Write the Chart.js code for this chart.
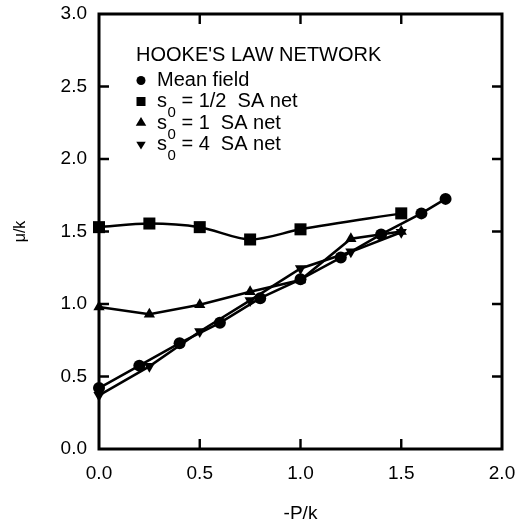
<!DOCTYPE html>
<html>
<head>
<meta charset="utf-8">
<script src="https://cdn.jsdelivr.net/npm/chart.js@4/dist/chart.umd.min.js"></script>
<style>
  html, body { margin: 0; padding: 0; background: #fff; }
  canvas { display: block; }
</style>
</head>
<body>
<canvas id="c" width="523" height="527"></canvas>
<script>
// ---- data ----
const legendTitle = "HOOKE'S LAW NETWORK";
const xAxisTitle = "-P/k";
const yAxisTitle = "μ/k";
const xTickValues = [0, 0.5, 1.0, 1.5, 2.0];
const yTickValues = [0, 0.5, 1.0, 1.5, 2.0, 2.5, 3.0];

const meanFieldX = [0, 0.2, 0.4, 0.6, 0.8, 1.0, 1.2, 1.4, 1.6, 1.72];
const meanFieldY = [0.42, 0.575, 0.73, 0.87, 1.04, 1.17, 1.32, 1.48, 1.625, 1.725];

const sHalfX = [0, 0.25, 0.5, 0.75, 1.0, 1.5];
const sHalfY = [1.53, 1.555, 1.53, 1.445, 1.515, 1.625];

const sOneX = [0, 0.25, 0.5, 0.75, 1.0, 1.25, 1.5];
const sOneY = [0.98, 0.93, 0.995, 1.085, 1.165, 1.45, 1.5];

const sFourX = [0, 0.25, 0.5, 0.75, 1.0, 1.25, 1.5];
const sFourY = [0.37, 0.57, 0.81, 1.025, 1.245, 1.36, 1.495];

const seriesLabels = ["Mean field", "s₀ = 1/2  SA net", "s₀ = 1  SA net", "s₀ = 4  SA net"];

// ---- helpers ----
const pts = (xs, ys) => xs.map((x, i) => ({ x: x, y: ys[i] }));
const FONT = "'Liberation Sans', Arial, sans-serif";

function drawMarker(ctx, style, x, y, s) {
  ctx.save();
  ctx.fillStyle = '#000';
  ctx.beginPath();
  if (style === 'circle') {
    ctx.arc(x, y, s, 0, Math.PI * 2);
  } else if (style === 'rect') {
    ctx.rect(x - s, y - s, 2 * s, 2 * s);
  } else if (style === 'triangle') {
    ctx.moveTo(x, y - s);
    ctx.lineTo(x + s * 1.05, y + s * 0.75);
    ctx.lineTo(x - s * 1.05, y + s * 0.75);
    ctx.closePath();
  } else if (style === 'triangleDown') {
    ctx.moveTo(x, y + s);
    ctx.lineTo(x + s * 1.05, y - s * 0.75);
    ctx.lineTo(x - s * 1.05, y - s * 0.75);
    ctx.closePath();
  }
  ctx.fill();
  ctx.restore();
}

// frame with inward tick marks, built from the chart scales
const framePlugin = {
  id: 'frame',
  afterDatasetsDraw(chart) {
    const { ctx, chartArea: a, scales } = chart;
    ctx.save();
    ctx.strokeStyle = '#000';
    ctx.lineWidth = 3;
    ctx.strokeRect(a.left, a.top, a.right - a.left, a.bottom - a.top);
    ctx.lineWidth = 2.4;
    const tl = 10;
    ctx.beginPath();
    yTickValues.forEach(v => {
      if (v === 0 || v === 3.0) return;
      const py = scales.y.getPixelForValue(v);
      ctx.moveTo(a.left, py); ctx.lineTo(a.left + tl, py);
      ctx.moveTo(a.right, py); ctx.lineTo(a.right - tl, py);
    });
    xTickValues.forEach(v => {
      if (v === 0 || v === 2.0) return;
      const px = scales.x.getPixelForValue(v);
      ctx.moveTo(px, a.bottom); ctx.lineTo(px, a.bottom - tl);
      ctx.moveTo(px, a.top); ctx.lineTo(px, a.top + tl);
    });
    ctx.stroke();
    ctx.restore();
  }
};

// in-plot legend with subscripts
const legendPlugin = {
  id: 'insideLegend',
  afterDraw(chart) {
    const { ctx, chartArea: a } = chart;
    const x0 = a.left + 37;
    ctx.save();
    ctx.fillStyle = '#000';
    ctx.textBaseline = 'alphabetic';
    ctx.textAlign = 'left';
    ctx.font = '20px ' + FONT;
    ctx.fillText(legendTitle, x0, a.top + 47);
    const baselines = [72, 93, 115, 136];
    const markerSizes = [4.5, 4.5, 5, 4.5];
    const markerDy = [-5.5, -5.5, -7, -5];
    chart.data.datasets.forEach((ds, i) => {
      const by = a.top + baselines[i];
      drawMarker(ctx, ds.pointStyle === 'triangle' && ds.rotation === 180 ? 'triangleDown' : ds.pointStyle,
        x0 + 5, by + markerDy[i], markerSizes[i]);
      let tx = x0 + 21;
      const label = ds.label;
      const k = label.indexOf('₀');
      ctx.font = '20px ' + FONT;
      if (k < 0) {
        ctx.fillText(label, tx, by);
      } else {
        const pre = label.slice(0, k), post = label.slice(k + 1);
        ctx.fillText(pre, tx, by);
        tx += ctx.measureText(pre).width + 0.5;
        ctx.font = '15px ' + FONT;
        ctx.fillText('0', tx, by + 10);
        tx += ctx.measureText('0').width;
        ctx.font = '20px ' + FONT;
        ctx.fillText(post, tx, by);
      }
    });
    ctx.restore();
  }
};

const baseDs = {
  borderColor: '#000',
  backgroundColor: '#000',
  pointBackgroundColor: '#000',
  pointBorderColor: '#000',
  borderWidth: 2.5,
  pointBorderWidth: 0,
  clip: false
};

new Chart(document.getElementById('c'), {
  type: 'line',
  data: {
    datasets: [
      Object.assign({}, baseDs, { label: seriesLabels[0], data: pts(meanFieldX, meanFieldY), pointStyle: 'circle', pointRadius: 6, tension: 0 }),
      Object.assign({}, baseDs, { label: seriesLabels[1], data: pts(sHalfX, sHalfY), pointStyle: 'rect', pointRadius: 8.5, tension: 0.3 }),
      Object.assign({}, baseDs, { label: seriesLabels[2], data: pts(sOneX, sOneY), pointStyle: 'triangle', pointRadius: 6.5, tension: 0 }),
      Object.assign({}, baseDs, { label: seriesLabels[3], data: pts(sFourX, sFourY), pointStyle: 'triangle', rotation: 180, pointRotation: 180, pointRadius: 6.5, tension: 0 })
    ]
  },
  options: {
    responsive: false,
    animation: false,
    devicePixelRatio: 1,
    layout: { padding: { top: 14, right: 21, left: 0, bottom: 0 } },
    plugins: { legend: { display: false }, tooltip: { enabled: false } },
    scales: {
      x: {
        type: 'linear',
        min: 0, max: 2,
        afterBuildTicks: s => { s.ticks = xTickValues.map(v => ({ value: v })); },
        afterFit: s => { s.height = 78; s.paddingLeft = 0; s.paddingRight = 0; },
        grid: { display: false, drawTicks: false },
        border: { display: false },
        ticks: { color: '#000', padding: 13, font: { family: FONT, size: 19 }, callback: v => Number(v).toFixed(1) },
        title: { display: true, text: xAxisTitle, color: '#000', font: { family: FONT, size: 19 }, padding: { top: 0, bottom: 2 } }
      },
      y: {
        type: 'linear',
        min: 0, max: 3,
        afterBuildTicks: s => { s.ticks = yTickValues.map(v => ({ value: v })); },
        afterFit: s => { s.width = 99; s.paddingTop = 0; s.paddingBottom = 0; },
        grid: { display: false, drawTicks: false },
        border: { display: false },
        ticks: { color: '#000', padding: 12, font: { family: FONT, size: 19 }, callback: v => Number(v).toFixed(1) },
        title: { display: true, text: yAxisTitle, color: '#000', font: { family: FONT, size: 16 }, padding: { top: 11, bottom: 0 } }
      }
    }
  },
  plugins: [framePlugin, legendPlugin]
});
</script>
</body>
</html>
